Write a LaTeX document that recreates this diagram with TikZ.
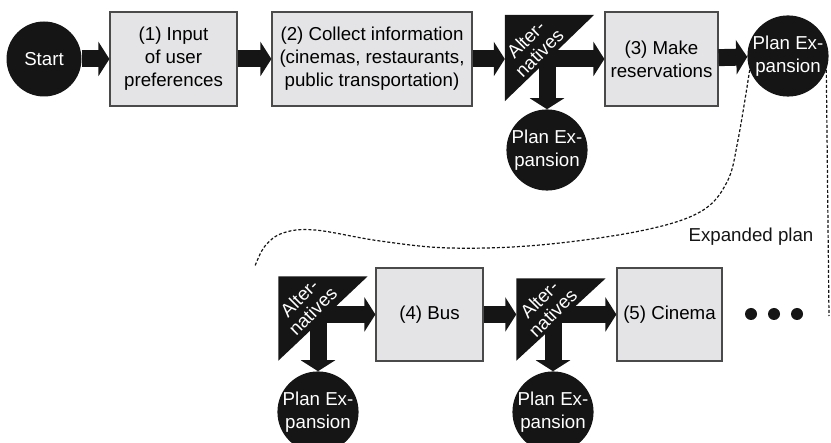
\documentclass[tikz,border=0pt]{standalone}
\usepackage{fontspec}
\setmainfont{Liberation Sans}
\usetikzlibrary{arrows.meta,calc}

\definecolor{ink}{HTML}{151515}
\definecolor{boxfill}{HTML}{E4E4E6}
\definecolor{boxline}{HTML}{4A4A4A}

\begin{document}
\begin{tikzpicture}[x=1pt, y=-1pt,
  font=\fontsize{18.7}{23}\selectfont,
  taskbox/.style={draw=boxline, line width=1.2pt, fill=boxfill, align=center, inner sep=0pt, minimum height=94pt},
  blackdot/.style={circle, fill=ink, text=white, inner sep=0pt, minimum size=75pt, align=center},
  bigarrow/.style={draw=ink, line width=17pt, -{Triangle[length=11pt,width=34pt]}},
  altbox/.style={inner sep=0pt, minimum width=89pt, minimum height=86pt},
  alttext/.style={text=white, rotate=45, align=center, inner sep=0pt, font=\fontsize{18.7}{19}\selectfont},
  dashline/.style={draw=ink, line width=1.2pt, dash pattern=on 3pt off 2pt}]
  \useasboundingbox (0,0) rectangle (831,443);
  \clip (0,0) rectangle (831,443);

  % Top row
  \node[blackdot] (start) at (44,59) {Start};
  \node[taskbox, minimum width=127pt] (box1) at (173.5,59) {(1) Input\\of user\\preferences};
  \node[taskbox, minimum width=200pt] (box2) at (372,59) {(2) Collect information\\(cinemas, restaurants,\\public transportation)};
  \node[altbox] (alt1) at (549.5,58) {};
  \fill[ink] (alt1.north west) -- (alt1.north east) -- (alt1.south west) -- cycle;
  \coordinate (j1) at (547,59);
  \node[blackdot] (pe1) at (547,150) {Plan Ex-\\pansion};
  \node[taskbox, minimum width=113pt] (box3) at (661.5,59) {(3) Make\\reservations};
  \node[blackdot] (pe3) at (788,56) {Plan Ex-\\pansion};

  % Bottom row
  \node[altbox, minimum height=84pt] (alt2) at (323,318.5) {};
  \fill[ink] (alt2.north west) -- (alt2.north east) -- (alt2.south west) -- cycle;
  \coordinate (j2) at (318,314.5);
  \node[blackdot] (pe2) at (318,412) {Plan Ex-\\pansion};
  \node[taskbox, minimum width=107pt, minimum height=93pt] (box4) at (429.5,314.5) {(4) Bus};
  \node[altbox, minimum height=82pt] (alt3) at (561,319.5) {};
  \fill[ink] (alt3.north west) -- (alt3.north east) -- (alt3.south west) -- cycle;
  \coordinate (j3) at (553,314.5);
  \node[blackdot] (pe4) at (553,412) {Plan Ex-\\pansion};
  \node[taskbox, minimum width=105pt, minimum height=93pt] (box5) at (669.5,314.5) {(5) Cinema};
  \foreach \i/\x in {1/751,2/774,3/797} {
    \node[circle, fill=ink, inner sep=0pt, minimum size=12pt] (dot\i) at (\x,314) {};
  }

  % Arrows
  \draw[bigarrow] (start) -- (box1);
  \draw[bigarrow] (box1) -- (box2);
  \draw[bigarrow] (box2) -- (box2 -| alt1.west);
  \draw[bigarrow] (j1) -- (box3);
  \draw[bigarrow] (j1) -- (pe1);
  \draw[bigarrow] (box3) -- (pe3);
  \draw[bigarrow] (j2) -- (box4);
  \draw[bigarrow] (j2) -- (pe2);
  \draw[bigarrow] (box4) -- (box4 -| alt3.west);
  \draw[bigarrow] (j3) -- (box5);
  \draw[bigarrow] (j3) -- (pe4);

  \node[alttext] (alt1txt) at ($(alt1)+(-17,-12)$) {Alter-\\natives};
  \node[alttext] (alt2txt) at ($(alt2)+(-17,-14)$) {Alter-\\natives};
  \node[alttext] (alt3txt) at ($(alt3)+(-15,-13.5)$) {Alter-\\natives};

  % Expansion outline
  \coordinate (cutleft) at (255,266);
  \coordinate (cutright) at (829,316);
  \draw[dashline] plot[smooth, tension=0.6] coordinates {(pe3.200) (738,140) (727,182) (700,212) (640,231) (540,245) (450,248) (380,241) (315,230) (283,233) (265,246) (cutleft)};
  \draw[dashline] (pe3.-20) -- (cutright);
  \node[text=ink] (explabel) at (751,237) {Expanded plan};
\end{tikzpicture}
\end{document}
